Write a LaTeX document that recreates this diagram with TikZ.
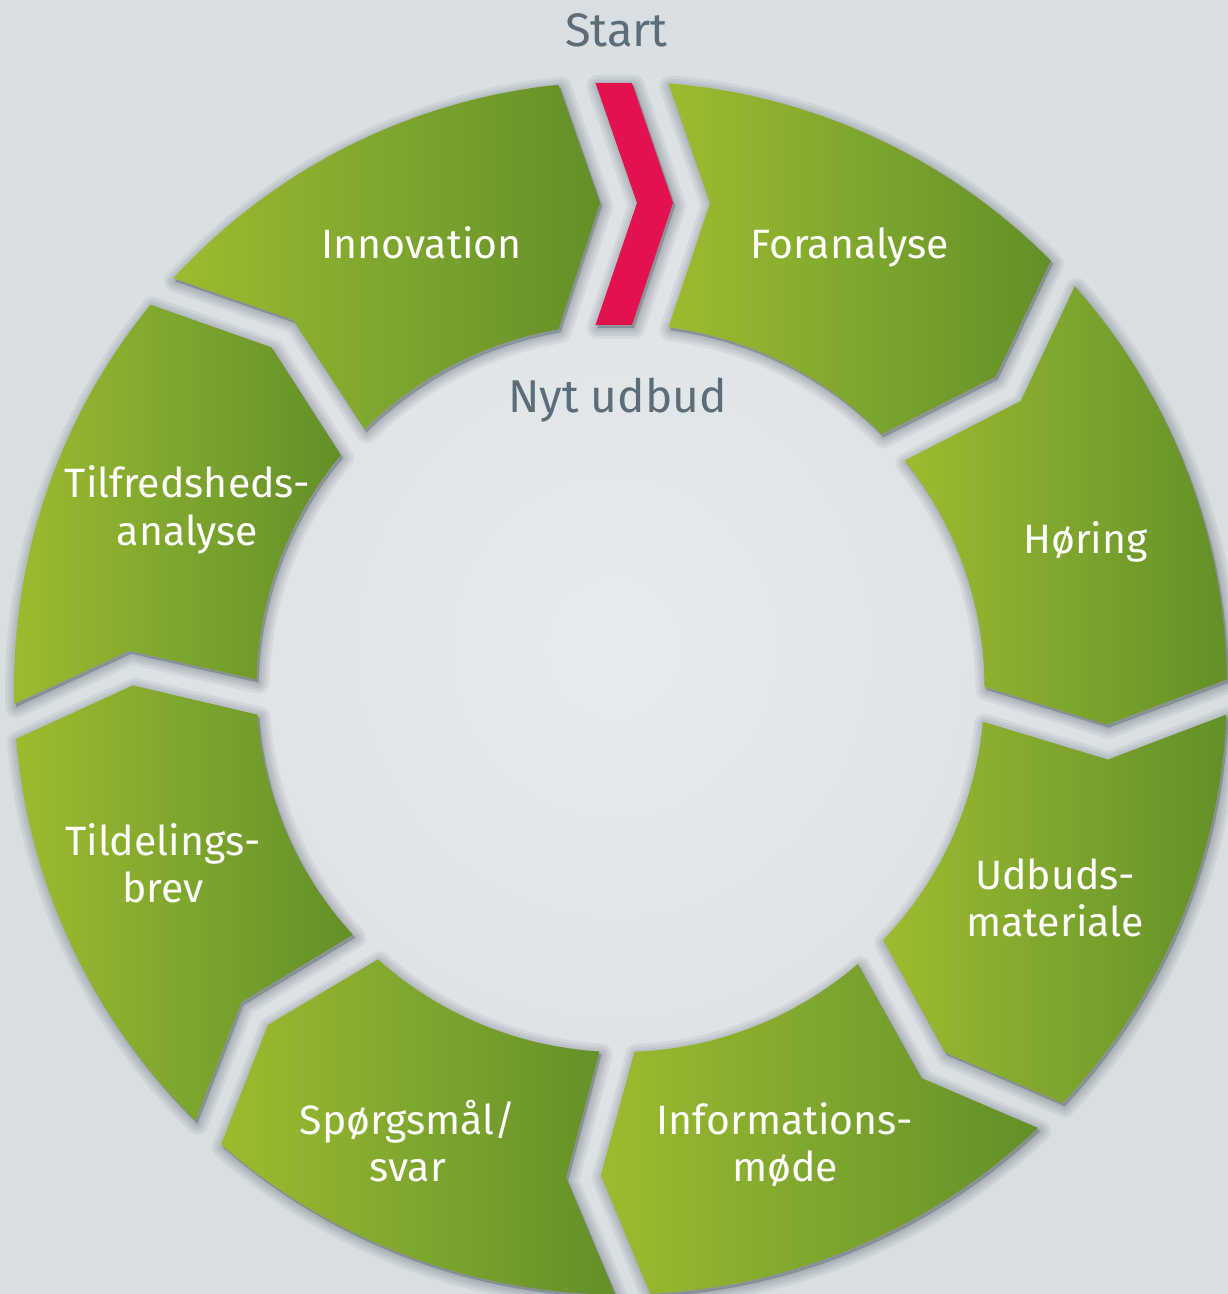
\documentclass[tikz,border=0pt]{standalone}
\usepackage{fontspec}
\setmainfont{Fira Sans}
\usetikzlibrary{calc}
\definecolor{bgin}{HTML}{E7EBEE}
\definecolor{bgout}{HTML}{D8DEE2}
\definecolor{glight}{HTML}{9CBC2F}
\definecolor{gmid}{HTML}{7EA62E}
\definecolor{gdark}{HTML}{648F29}
\definecolor{redc}{HTML}{E2124F}
\definecolor{txtgray}{HTML}{5A6D79}
\definecolor{shadc}{HTML}{3A4650}
\def\RadO{606.5}
\def\RadI{364}
\def\RadM{485}
\def\TipD{41.5}
% #1 trailing boundary angle, #2 trailing offset, #3 leading boundary angle, #4 leading offset
\newcommand{\segpath}[4]{%
 ({#1-asin(#2/\RadO)}:\RadO) arc[start angle={#1-asin(#2/\RadO)}, end angle={#3-asin(#4/\RadO)}, radius=\RadO]
 -- ($(#3:\RadM)+(#3-90:#4+\TipD)$)
 -- ({#3-asin(#4/\RadI)}:\RadI) arc[start angle={#3-asin(#4/\RadI)}, end angle={#1-asin(#2/\RadI)}, radius=\RadI]
 -- ($(#1:\RadM)+(#1-90:#2+\TipD)$) -- cycle}
\newcommand{\redpath}{(-25,605) -- (11.5,605) -- (52.5,485) -- (11.5,363) -- (-25,363) -- (16.5,485) -- cycle}
\begin{document}
\begin{tikzpicture}[x=1pt,y=1pt,
  shadlayer/.style={fill=shadc, draw=shadc, line width=#1, line join=round, opacity=0.07, shift={(2,-3)}},
  seg/.style={left color=glight, right color=gdark, middle color=gmid},
  lab/.style={font=\fontsize{41}{47}\selectfont, text=white, align=center, inner sep=0pt},
  glab/.style={text=txtgray, inner sep=0pt}]
\useasboundingbox (-620.5,-606) rectangle (607.5,688);
\path[inner color=bgin, outer color=bgout] (-620.5,-606) rectangle (607.5,688);
% soft shadows
\foreach \w in {22pt,16pt,11pt,6pt,2pt}{
  \foreach \a/\b/\c/\d in {90/48/45.7/9.5, 45.7/44.5/1.7/9.5, 1.7/44.5/-42.3/9.5,
     -42.3/44.5/-86.3/9.5, -86.3/44.5/-130.3/9.5, -130.3/44.5/-174.3/9.5,
     -174.3/44.5/-218.3/9.5, -218.3/44.5/-270/-62}{
    \path[shadlayer=\w] \segpath{\a}{\b}{\c}{\d};
  }
  \path[shadlayer=\w] \redpath;
}
% segments
\path[seg] \segpath{90}{48}{45.7}{9.5};
\path[seg] \segpath{45.7}{44.5}{1.7}{9.5};
\path[seg] \segpath{1.7}{44.5}{-42.3}{9.5};
\path[seg] \segpath{-42.3}{44.5}{-86.3}{9.5};
\path[seg] \segpath{-86.3}{44.5}{-130.3}{9.5};
\path[seg] \segpath{-130.3}{44.5}{-174.3}{9.5};
\path[seg] \segpath{-174.3}{44.5}{-218.3}{9.5};
\path[seg] \segpath{-218.3}{44.5}{-270}{-62};
% red chevron
\path[fill=redc] \redpath;
% labels
\node[glab, anchor=base, font=\fontsize{47}{52}\selectfont] (start) at (-4,641) {Start};
\node[glab, anchor=base, font=\fontsize{46}{52}\selectfont] (nyt) at (-3,275) {Nyt udbud};
\node[lab, anchor=base] (innov) at (-199,429) {Innovation};
\node[lab, anchor=base] (foran) at (229.5,429) {Foranalyse};
\node[lab, anchor=base] (hoer) at (465,135) {Høring};
\node[lab, anchor=base] (udb) at (434.5,-248) {Udbuds-\\materiale};
\node[lab, anchor=base] (info) at (164.5,-493) {Informations-\\møde};
\node[lab, anchor=base] (spoerg) at (-212.5,-493) {Spørgsmål/\\svar};
\node[lab, anchor=base] (tild) at (-457.5,-214) {Tildelings-\\brev};
\node[lab, anchor=base] (tilf) at (-433,143) {Tilfredsheds-\\analyse};
\end{tikzpicture}
\end{document}
